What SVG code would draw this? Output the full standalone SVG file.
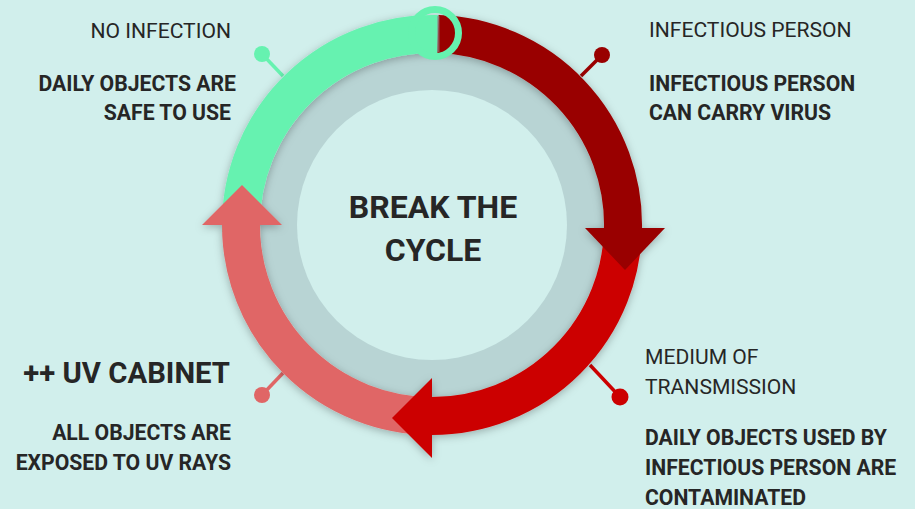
<svg xmlns="http://www.w3.org/2000/svg" width="915" height="509" viewBox="0 0 915 509">
<style>
.t{font-family:Roboto,"Liberation Sans",sans-serif;fill:#262626}
.h{font-size:21.1px;font-weight:400}
.b{font-size:21.2px;font-weight:700}
.arc{fill:none;stroke-width:38}
.pin{stroke-width:3.5}
</style>
<defs>
<filter id="sh" x="-20%" y="-20%" width="140%" height="140%">
<feDropShadow dx="0" dy="2" stdDeviation="4" flood-color="#000" flood-opacity="0.28"/>
</filter>
</defs>
<rect width="915" height="509" fill="#d1efec"/>
<g id="center">
<circle cx="432" cy="225" r="172" fill="#b8d4d4"/>
<circle cx="432" cy="225" r="135" fill="#d1efec"/>
<text class="t" x="433" y="218" text-anchor="middle" font-size="32" font-weight="700">BREAK THE</text>
<text class="t" x="433" y="261" text-anchor="middle" font-size="32" font-weight="700">CYCLE</text>
</g>
<g id="connectors">
<g id="pins">
<line class="pin" x1="283" y1="76" x2="262" y2="54" stroke="#66f2b0"/>
<circle cx="262" cy="54" r="8" fill="#66f2b0"/>
<line class="pin" x1="581" y1="76" x2="602" y2="55" stroke="#990000"/>
<circle cx="602" cy="55" r="8" fill="#990000"/>
<line class="pin" x1="590" y1="365" x2="620" y2="397" stroke="#cc0000"/>
<circle cx="620" cy="397" r="8.5" fill="#cc0000"/>
<line class="pin" x1="283" y1="373" x2="262" y2="395" stroke="#e06666"/>
<circle cx="262" cy="395" r="8" fill="#e06666"/>
</g>
<g filter="url(#sh)">
<path id="green-arc" class="arc" stroke="#66f2b0" d="M 241 232 L 241 225 A 191 191 0 0 1 438 34.1"/>
<g id="pink-arc">
<path class="arc" stroke="#e06666" d="M 432 416 A 191 191 0 0 1 241 225"/>
<polygon points="202,225 282,225 242,185" fill="#e06666"/>
</g>
<g id="red-arc">
<path class="arc" stroke="#cc0000" d="M 623 225 A 191 191 0 0 1 432 416"/>
<polygon points="432,378 432,458 392,418" fill="#cc0000"/>
</g>
<g id="darkred-arc">
<path class="arc" stroke="#990000" d="M 438 34.1 A 191 191 0 0 1 623 229"/>
<polygon points="585,228 665,228 625,270" fill="#990000"/>
</g>
</g>
<rect x="437" y="16" width="2.5" height="36" fill="#8a8a8a" opacity="0.6"/>
<circle id="top-ring" cx="435" cy="33" r="23.5" fill="none" stroke="#66f2b0" stroke-width="7"/>
</g>
<g id="node-no-infection">
<text class="t h" x="231" y="38" text-anchor="end">NO INFECTION</text>
<text class="t b" x="236" y="91" text-anchor="end">DAILY OBJECTS ARE</text>
<text class="t b" x="231" y="120" text-anchor="end">SAFE TO USE</text>
</g>
<g id="node-infectious">
<text class="t h" x="649" y="37">INFECTIOUS PERSON</text>
<text class="t b" x="649" y="91">INFECTIOUS PERSON</text>
<text class="t b" x="649" y="120">CAN CARRY VIRUS</text>
</g>
<g id="node-medium">
<text class="t h" x="645" y="364">MEDIUM OF</text>
<text class="t h" x="645" y="394">TRANSMISSION</text>
<text class="t b" x="645" y="445">DAILY OBJECTS USED BY</text>
<text class="t b" x="645" y="475">INFECTIOUS PERSON ARE</text>
<text class="t b" x="645" y="505">CONTAMINATED</text>
</g>
<g id="node-uv">
<text class="t" x="230" y="383" text-anchor="end" font-size="29.3" font-weight="700">++ UV CABINET</text>
<text class="t b" x="231" y="440" text-anchor="end">ALL OBJECTS ARE</text>
<text class="t b" x="231" y="470" text-anchor="end">EXPOSED TO UV RAYS</text>
</g>
</svg>
